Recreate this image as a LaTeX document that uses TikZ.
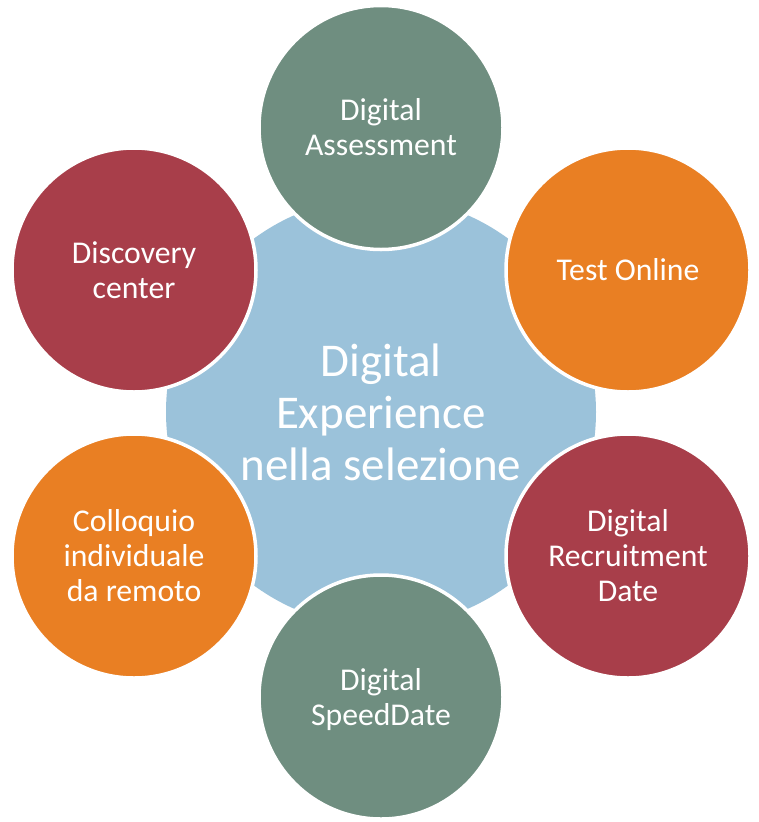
\documentclass[tikz,border=0pt]{standalone}
\usepackage{fontspec}
\setmainfont{Carlito}
\definecolor{petalgreen}{RGB}{111,142,128}
\definecolor{petalorange}{RGB}{233,127,35}
\definecolor{petalred}{RGB}{168,62,74}
\definecolor{hubblue}{RGB}{155,194,218}
\begin{document}
\begin{tikzpicture}[x=1pt,y=-1pt,
  petal/.style={circle, minimum size=244pt, inner sep=0pt, draw=white, line width=3.5pt, text=white, align=center, font=\fontsize{31.7}{35}\selectfont},
  hub/.style={circle, minimum size=430pt, inner sep=0pt, fill=hubblue, text=white, align=center, font=\fontsize{47}{52}\selectfont}]
\useasboundingbox (0,0) rectangle (759,822);
\node[hub] (hub) at (381,412) {Digital\\Experience\\nella selezione};
\node[petal, fill=petalgreen] (assess) at (381,127.5) {Digital\\Assessment};
\node[petal, fill=petalorange] (test) at (628,270) {Test Online};
\node[petal, fill=petalred] (recruit) at (628,556) {Digital\\Recruitment\\Date};
\node[petal, fill=petalgreen] (speed) at (381,697) {Digital\\\raisebox{0pt}[\height][0pt]{SpeedDate}};
\node[petal, fill=petalorange] (colloquio) at (134,556) {Colloquio\\individuale\\da remoto};
\node[petal, fill=petalred] (discovery) at (134,270) {Discovery\\center};
\end{tikzpicture}
\end{document}
